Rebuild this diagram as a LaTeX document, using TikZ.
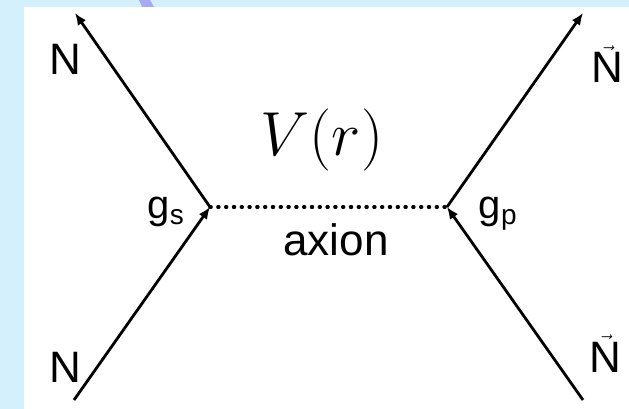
\documentclass[tikz,border=0pt]{standalone}
\usepackage{amsmath}
\usepackage{fontspec}
\setmainfont{Liberation Sans}
\usepackage{tikz}
\usetikzlibrary{positioning,arrows.meta}
\usepackage{xcolor}
\definecolor{fondbleu}{RGB}{212,240,252}
\definecolor{ongletbleu}{RGB}{165,170,245}

\begin{document}
\begin{tikzpicture}[x=1pt,y=-1pt,
    fermion/.style={line width=2.8pt,-{Latex[length=12pt,width=10pt]}},
    axionline/.style={line width=3.2pt,line cap=round,dash pattern=on 1.2pt off 6.6pt},
    lab/.style={anchor=base,inner sep=0pt,font=\fontsize{44}{50}\selectfont},
    couplage/.style={lab,font=\fontsize{40}{46}\selectfont}]

% fond
\useasboundingbox (0,0) rectangle (629,409);
\fill[fondbleu] (0,0) rectangle (629,409);
\fill[white] (24,7) rectangle (629,409);
\fill[ongletbleu] (139,0) -- (150,0) -- (154,7) -- (142,7) -- cycle;

% sommets et extremites
\coordinate (vs) at (210,207);
\coordinate (vp) at (447,207);
\coordinate (e1) at (74,400);
\coordinate (s1) at (75,13);
\coordinate (e2) at (583,400);
\coordinate (s2) at (583,13);

\draw[fermion] (e1) -- (vs);
\draw[fermion] (vs) -- (s1);
\draw[fermion] (e2) -- (vp);
\draw[fermion] (vp) -- (s2);
\draw[axionline] (vs) -- (vp);

\node[lab] (n1) at (65,75) {N};
\node[lab] (n2) at (65,382) {N};
\node[lab] (n3) at (607,83) {$\vec{\text{N}}$};
\node[lab] (n4) at (605,372) {$\vec{\text{N}}$};

\node[couplage] (gs) at (166,218) {g$_\text{s}$};
\node[couplage] (gp) at (498,218) {g$_\text{p}$};

\node[lab] (ax) at (336,255) {axion};
\node[lab,font=\fontsize{24.88}{30}\selectfont,scale=2.5] (pot) at (322,155) {$V(r)$};

\end{tikzpicture}
\end{document}
